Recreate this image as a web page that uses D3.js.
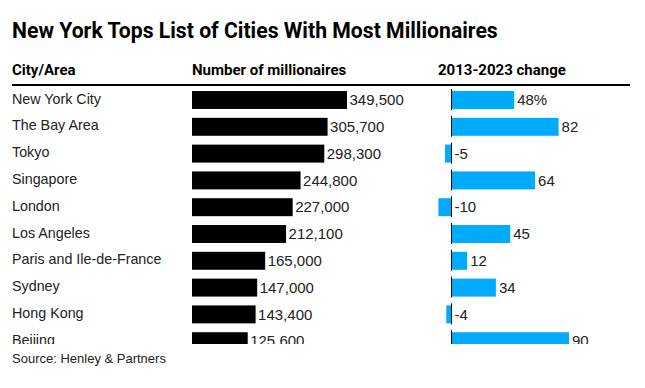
<!DOCTYPE html>
<html>
<head>
<meta charset="utf-8">
<script src="https://cdn.jsdelivr.net/npm/d3@7"></script>
<style>
  body { margin: 0; background: #fff; }
  text { font-family: "Liberation Sans", Arial, sans-serif; }
  .cond { font-family: "Liberation Sans Narrow", "Arial Narrow", "Roboto", sans-serif; font-weight: bold; }
</style>
</head>
<body>
<svg id="chart"></svg>
<script>
const width = 645, height = 388;

const cities = ["New York City", "The Bay Area", "Tokyo", "Singapore", "London",
    "Los Angeles", "Paris and Ile-de-France", "Sydney", "Hong Kong", "Beijing"];
const millionaires = [349500, 305700, 298300, 244800, 227000, 212100, 165000, 147000, 143400, 125600];
const change = [48, 82, -5, 64, -10, 45, 12, 34, -4, 90];

const svg = d3.select("#chart")
    .attr("width", width)
    .attr("height", height);

svg.append("text")
    .attr("class", "cond")
    .attr("x", 12).attr("y", 38)
    .style("font-size", "21.2px")
    .attr("fill", "#000")
    .text("New York Tops List of Cities With Most Millionaires");

const headers = [["City/Area", 12], ["Number of millionaires", 192], ["2013-2023 change", 438]];
svg.selectAll(".hdr")
    .data(headers)
    .enter().append("text")
    .attr("class", "cond hdr")
    .attr("x", d => d[1]).attr("y", 75)
    .style("font-size", "15px")
    .attr("fill", "#000")
    .text(d => d[0]);

svg.append("line")
    .attr("x1", 12).attr("x2", 630)
    .attr("y1", 85).attr("y2", 85)
    .attr("stroke", "#000")
    .attr("stroke-width", 2);

// clip the rows, the last one is cut off
svg.append("clipPath").attr("id", "rows")
    .append("rect").attr("x", 0).attr("y", 86).attr("width", width).attr("height", 258);

const y = d3.scaleBand()
    .domain(cities)
    .range([91 - 4.4, 91 - 4.4 + 26.8 * cities.length])
    .paddingInner(0.33)
    .paddingOuter(0.165);

const x = d3.scaleLinear()
    .domain([0, 349500])
    .range([192, 347]);

const xc = d3.scaleLinear()
    .domain([0, 90])
    .range([451.5, 569]);

const g = svg.append("g").attr("clip-path", "url(#rows)");

const rows = g.selectAll(".row")
    .data(cities)
    .enter().append("g")
    .attr("class", "row");

rows.append("text")
    .attr("x", 12)
    .attr("y", d => y(d) + y.bandwidth() / 2 + 3.5)
    .style("font-size", "14.3px")
    .attr("fill", "#222")
    .text(d => d);

rows.append("rect")
    .attr("x", x(0))
    .attr("y", d => y(d))
    .attr("height", y.bandwidth())
    .attr("width", (d, i) => x(millionaires[i]) - x(0))
    .attr("fill", "#000");

rows.append("text")
    .attr("x", (d, i) => x(millionaires[i]) + 2.5)
    .attr("y", d => y(d) + y.bandwidth() / 2 + 5.2)
    .style("font-size", "15px")
    .attr("fill", "#222")
    .text((d, i) => d3.format(",")(millionaires[i]));

rows.append("rect")
    .attr("x", (d, i) => Math.min(xc(0), xc(change[i])))
    .attr("y", d => y(d))
    .attr("height", y.bandwidth())
    .attr("width", (d, i) => Math.abs(xc(change[i]) - xc(0)))
    .attr("fill", "#00aaff");

rows.append("line")
    .attr("x1", xc(0)).attr("x2", xc(0))
    .attr("y1", d => y(d) - 2)
    .attr("y2", d => y(d) + y.bandwidth() + 1)
    .attr("stroke", "#000")
    .attr("stroke-width", 1);

rows.append("text")
    .attr("x", (d, i) => Math.max(xc(0), xc(change[i])) + 3)
    .attr("y", d => y(d) + y.bandwidth() / 2 + 5.2)
    .style("font-size", "15px")
    .attr("fill", "#222")
    .text((d, i) => i === 0 ? change[i] + "%" : change[i]);

svg.append("text")
    .attr("x", 12).attr("y", 363)
    .style("font-size", "13px")
    .attr("fill", "#222")
    .text("Source: Henley & Partners");
</script>
</body>
</html>
